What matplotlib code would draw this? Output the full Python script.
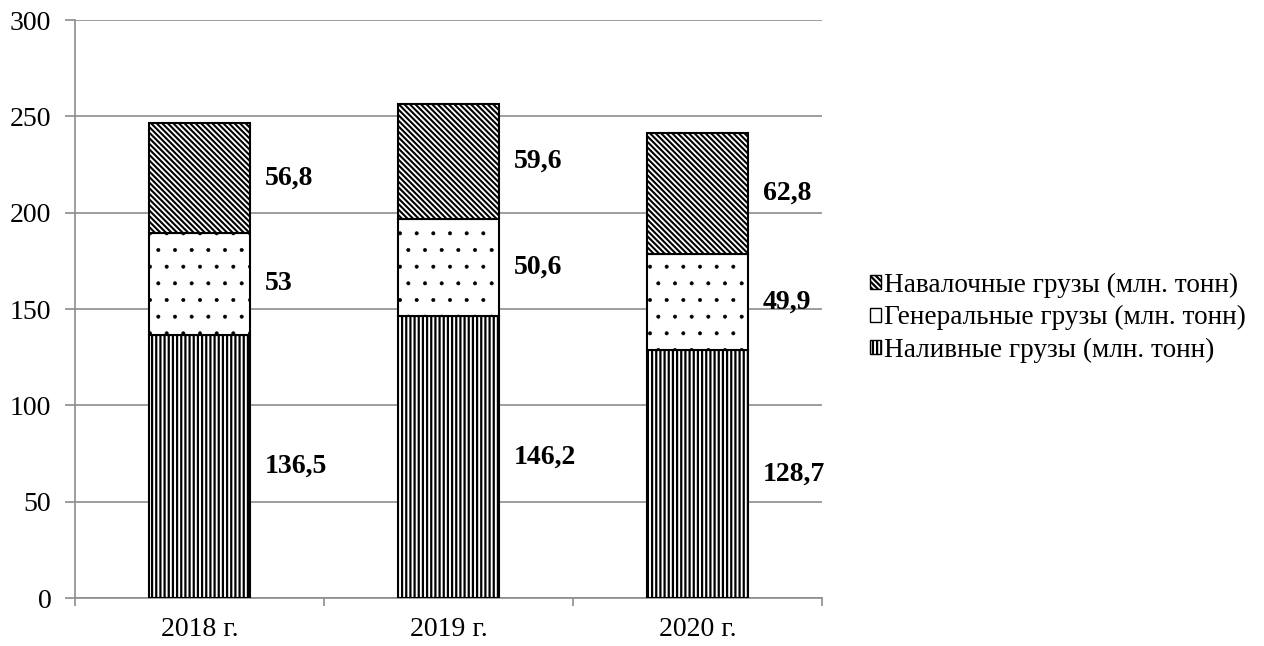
import matplotlib
matplotlib.use('Agg')
import matplotlib.pyplot as plt
import numpy as np
from matplotlib.patches import Patch

plt.rcParams['font.family'] = ['Liberation Serif', 'DejaVu Serif']
plt.rcParams['hatch.linewidth'] = 1.6
plt.rcParams['hatch.color'] = 'black'

years = ['2018 г.', '2019 г.', '2020 г.']
liquid = [136.5, 146.2, 128.7]
general = [53, 50.6, 49.9]
bulk = [56.8, 59.6, 62.8]
series_names = ['Наливные грузы (млн. тонн)',
                'Генеральные грузы (млн. тонн)',
                'Навалочные грузы (млн. тонн)']
BACKSLASH = chr(92)
hatches = ['||||', '.', BACKSLASH * 6]
hatch_widths = [1.6, 0.4, 1.5]

fig = plt.figure(figsize=(12.64, 6.46), dpi=100)
ax = fig.add_axes([0.0593, 0.0743, 0.5909, 0.8947])

x = np.arange(len(years))
width = 0.405
bottom = np.zeros(len(years))
for vals, hatch, hw in zip([liquid, general, bulk], hatches, hatch_widths):
    vals = np.array(vals, dtype=float)
    bars = ax.bar(x, vals, width, bottom=bottom, color='white', edgecolor='black',
                  linewidth=1.5, hatch=hatch, zorder=3)
    for b in bars:
        if hasattr(b, 'set_hatch_linewidth'):
            b.set_hatch_linewidth(hw)
    for xi, b, v in zip(x, bottom, vals):
        ax.text(xi + width / 2 + 0.06, b + v / 2, f'{v:g}'.replace('.', ','),
                ha='left', va='center', fontsize=20, fontweight='bold')
    bottom += vals

ax.set_xlim(-0.5, 2.5)
ax.set_ylim(0, 300)
ax.set_yticks(range(0, 301, 50))
ax.yaxis.grid(True, color='#8c8c8c', linewidth=1.2, zorder=0)
ax.set_xticks(x)
ax.set_xticklabels(years)
ax.set_xticks([-0.5, 0.5, 1.5, 2.5], minor=True)
ax.tick_params(axis='x', which='major', length=0, pad=14, labelsize=20)
ax.tick_params(axis='x', which='minor', length=6, color='#8c8c8c', width=1.2)
ax.tick_params(axis='y', length=7, color='#8c8c8c', width=1.2, pad=10, labelsize=20)
for side in ['top', 'right']:
    ax.spines[side].set_visible(False)
for side in ['left', 'bottom']:
    ax.spines[side].set_color('#8c8c8c')
    ax.spines[side].set_linewidth(1.2)

# the small legend swatch for the dotted series reads as a plain square
legend_hatches = ['||||', None, BACKSLASH * 6]
handles = []
for h, hw in zip(legend_hatches, hatch_widths):
    p = Patch(facecolor='white', edgecolor='black', hatch=h, linewidth=1)
    if hasattr(p, 'set_hatch_linewidth'):
        p.set_hatch_linewidth(hw)
    handles.append(p)
fig.legend(handles[::-1], series_names[::-1], loc='center left',
           bbox_to_anchor=(0.669, 0.508), frameon=False, fontsize=19.6,
           handlelength=0.4, handleheight=0.4, handletextpad=0.12,
           labelspacing=0.27)

fig.savefig('out.png', dpi=100)
